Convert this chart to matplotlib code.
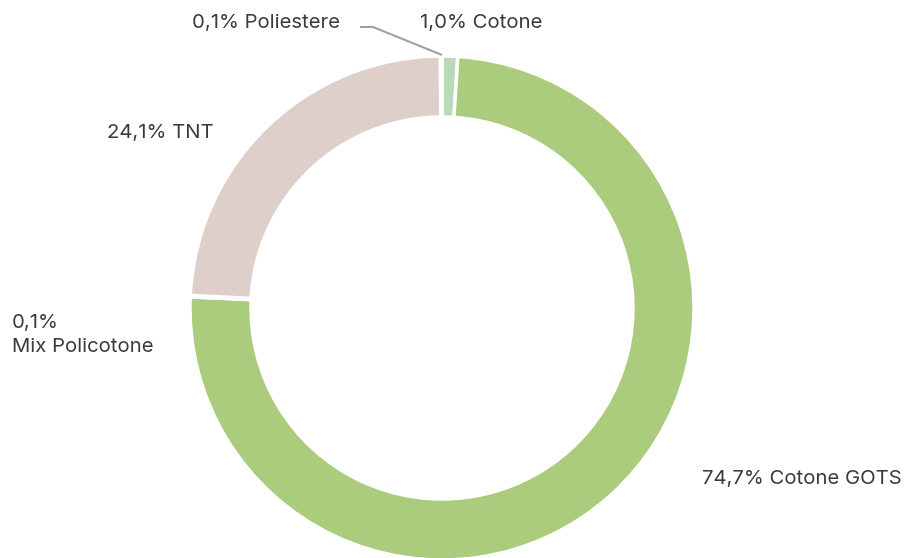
import matplotlib
matplotlib.use("Agg")
import matplotlib.pyplot as plt

labels = ["Cotone", "Cotone GOTS", "Mix Policotone", "TNT", "Poliestere"]
values = [1.0, 74.7, 0.1, 24.1, 0.1]
colors = ["#b8dab8", "#aacc7c", "#f3f3f3", "#dfcfcb", "#a8c8d8"]
label_texts = ["1,0% Cotone", "74,7% Cotone GOTS", "0,1%\nMix Policotone", "24,1% TNT", "0,1% Poliestere"]

W, H = 905, 558
fig = plt.figure(figsize=(W / 100, H / 100), dpi=100)
ax = fig.add_axes([0, 0, 1, 1])

cx, cy, R = 442, H - 308, 252
ax.pie(values, colors=colors, startangle=90, counterclock=False,
       center=(cx, cy), radius=R,
       wedgeprops=dict(width=61, edgecolor="white", linewidth=2.5))
ax.set_xlim(0, W)
ax.set_ylim(0, H)
ax.set_aspect("equal")
ax.axis("off")

font = dict(family=["Inter", "DejaVu Sans"], fontsize=14.6, color="#3a3a3a")
# label positions in pixel coordinates (left x, center y from top)
pos = {
    "Cotone": (420, 23),
    "Cotone GOTS": (702, 479),
    "Mix Policotone": (12, 335),
    "TNT": (107, 133),
    "Poliestere": (192, 23),
}
for lab, txt in zip(labels, label_texts):
    x, y = pos[lab]
    ax.text(x, H - y, txt, ha="left", va="center", linespacing=1.4, **font)

# leader line for Poliestere
ax.plot([360, 373, 442], [H - 27, H - 27, H - 55], color="#a0a0a0", lw=1.5,
        solid_capstyle="butt")

fig.savefig("out.png", dpi=100)
